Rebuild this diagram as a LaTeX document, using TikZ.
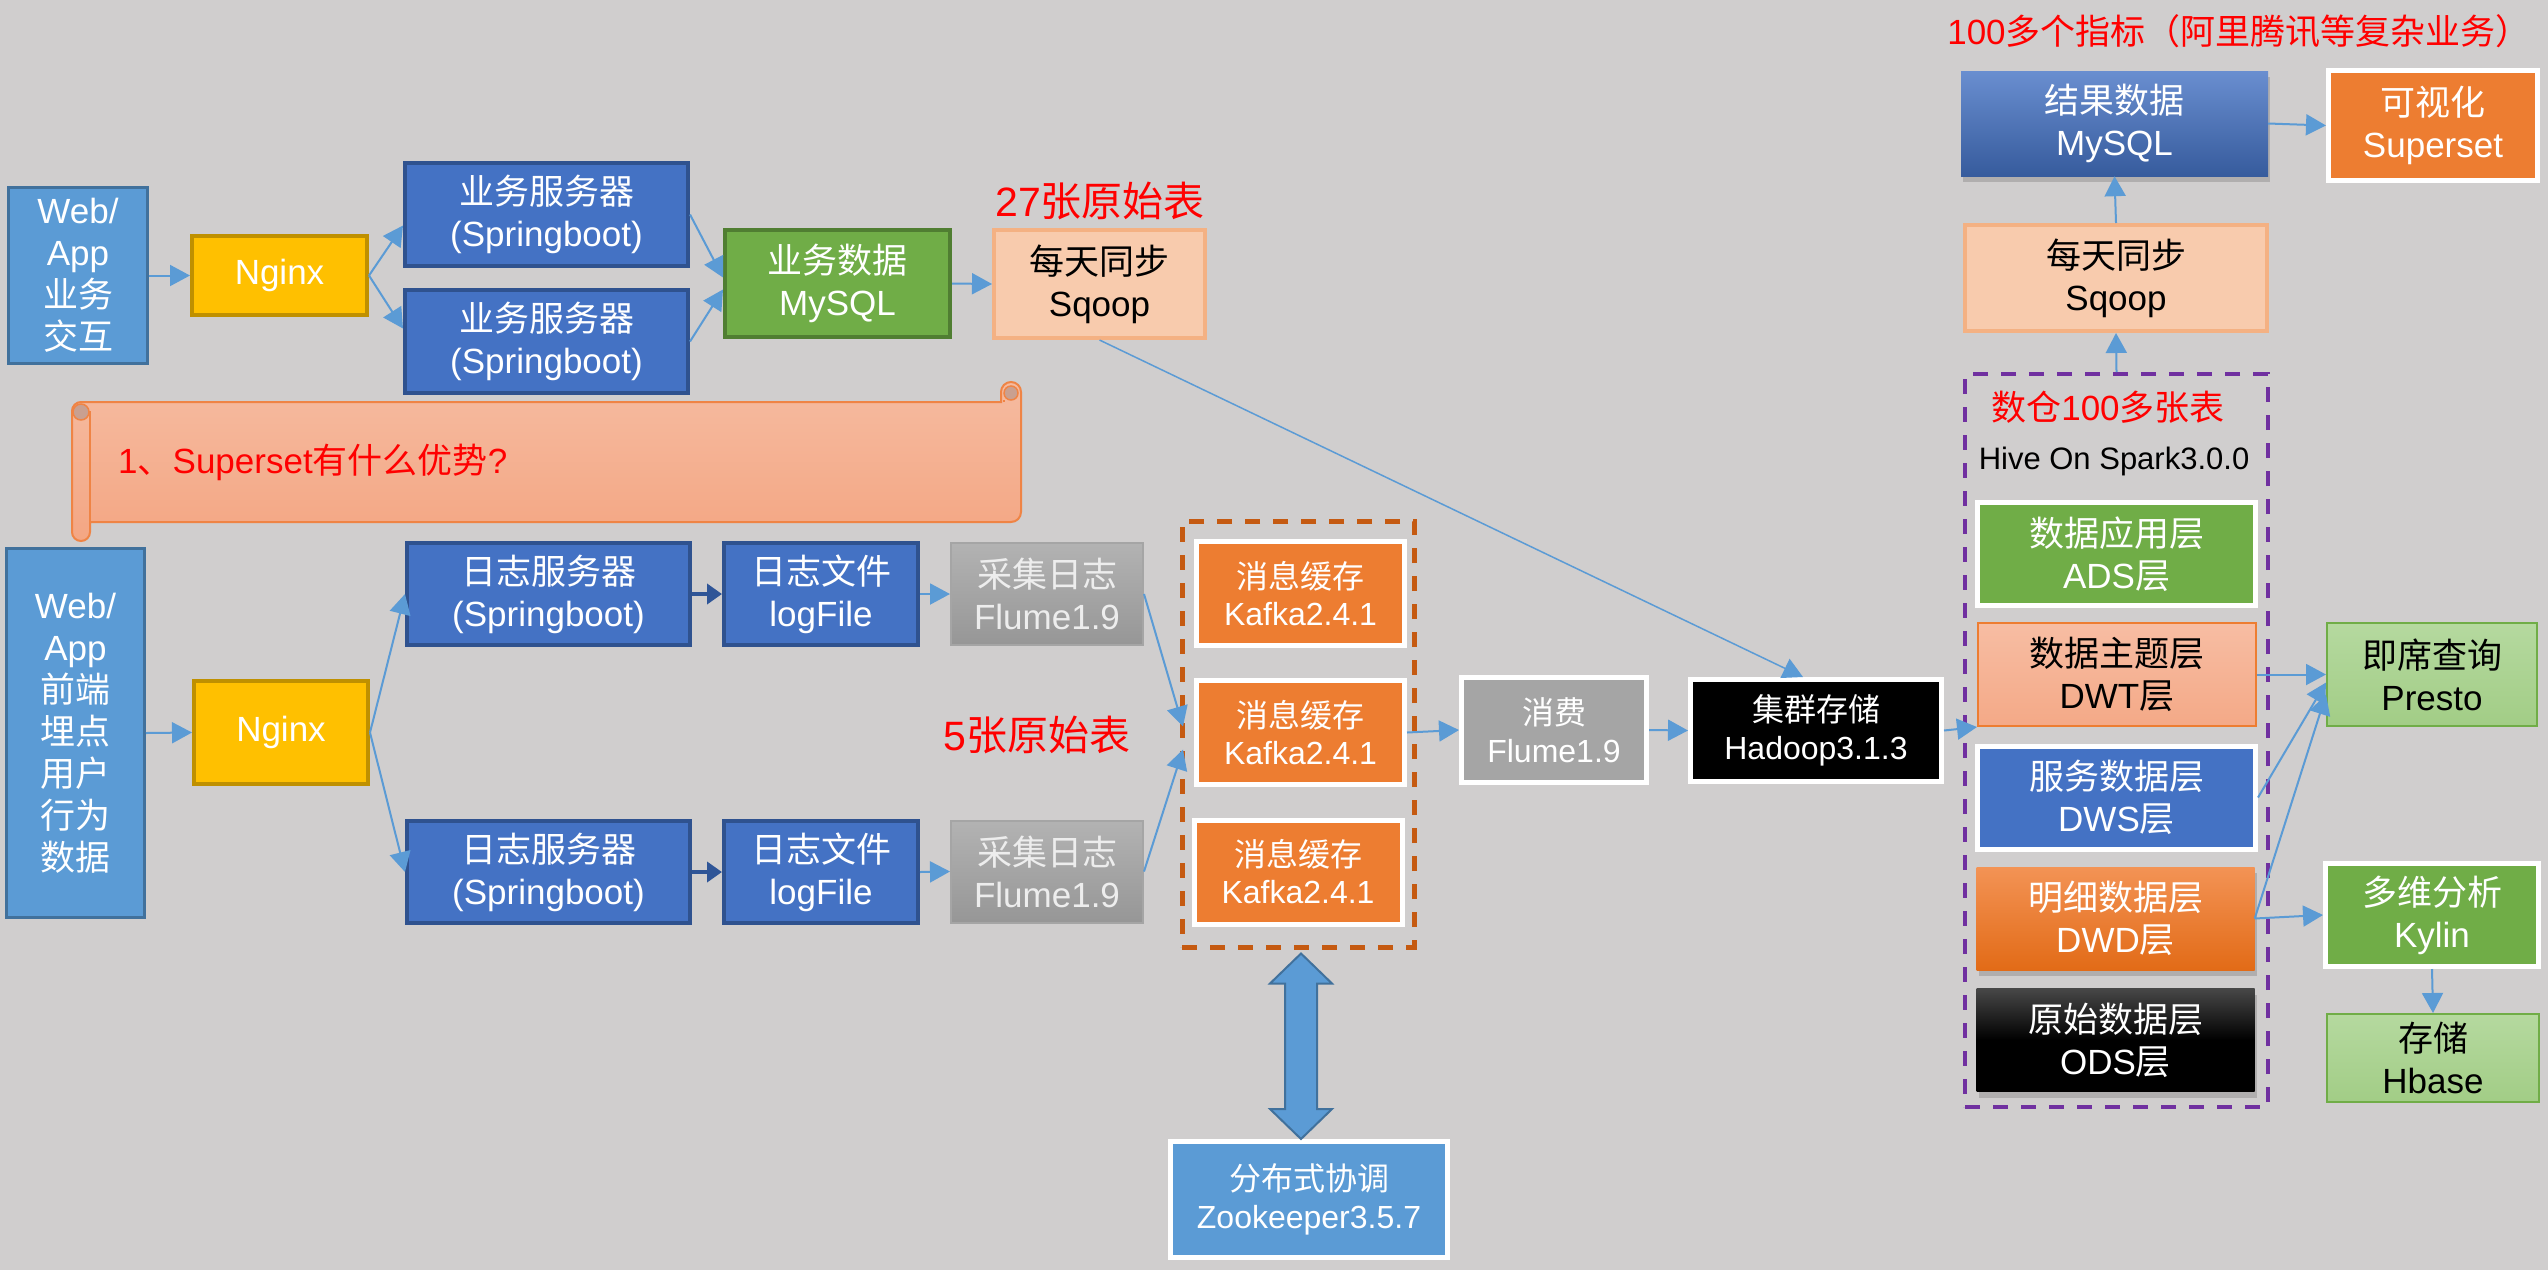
\documentclass[tikz,border=0pt]{standalone}
\usepackage{xcolor}
\usepackage{fontspec}
\setmainfont{Liberation Sans}
\newfontfamily\zhfont{Noto Sans CJK SC}
\newcommand{\zh}[1]{{\zhfont #1}}
\usepackage{tikz}
\usetikzlibrary{arrows.meta,positioning,calc,shadows}
\definecolor{bggray}{HTML}{D0CECE}
\definecolor{arrowblue}{HTML}{5B9BD5}
\definecolor{lightblue}{HTML}{5B9BD5}
\definecolor{lightblueline}{HTML}{41719C}
\definecolor{nginxyellow}{HTML}{FFC000}
\definecolor{nginxline}{HTML}{BF9000}
\definecolor{srvblue}{HTML}{4472C4}
\definecolor{srvline}{HTML}{2F528F}
\definecolor{darkarrow}{HTML}{2F5597}
\definecolor{dbgreen}{HTML}{70AD47}
\definecolor{dbline}{HTML}{507E32}
\definecolor{sqoopfill}{HTML}{F8CBAD}
\definecolor{sqoopline}{HTML}{F4B183}
\definecolor{kafkaorange}{HTML}{ED7D31}
\definecolor{grpline}{HTML}{C55A11}
\definecolor{dwpurple}{HTML}{7030A0}
\definecolor{flumegray}{HTML}{A5A5A5}
\definecolor{notered}{HTML}{FF0000}
\definecolor{scrolltop}{HTML}{F5BBA0}
\definecolor{scrollbot}{HTML}{F4A683}
\definecolor{scrollline}{HTML}{EF8445}
\definecolor{curlfill}{HTML}{C9A090}
\definecolor{dwttop}{HTML}{F7BDA3}
\definecolor{dwtbot}{HTML}{F4A987}
\definecolor{dwdtop}{HTML}{F39355}
\definecolor{dwdbot}{HTML}{E26B17}
\definecolor{lgtop}{HTML}{B5D99F}
\definecolor{lgbot}{HTML}{A2CD86}

\tikzset{
  boxbase/.style={rectangle, inner sep=0pt, align=center, text=white,
    font=\fontsize{35}{42}\selectfont},
  webbox/.style={boxbase, fill=lightblue, draw=lightblueline, line width=3pt},
  ngxbox/.style={boxbase, fill=nginxyellow, draw=nginxline, line width=4pt},
  srvbox/.style={boxbase, fill=srvblue, draw=srvline, line width=4pt},
  dbbox/.style={boxbase, fill=dbgreen, draw=dbline, line width=4pt},
  sqpbox/.style={boxbase, fill=sqoopfill, draw=sqoopline, line width=4pt, text=black},
  wbox/.style={boxbase, draw=white, line width=5pt},
  flmbox/.style={boxbase, top color=black!30, bottom color=black!41, draw=flumegray,
    line width=2pt, text=white!93!black, minimum width=192, minimum height=102},
  kfkbox/.style={wbox, fill=kafkaorange, minimum width=208, minimum height=104,
    font=\fontsize{32}{37}\selectfont},
  lgbox/.style={boxbase, top color=lgtop, bottom color=lgbot,
    draw=dbgreen, line width=2pt, text=black},
  dwlayer/.style={boxbase, minimum width=278, minimum height=103},
  boxshadow/.style={drop shadow={shadow xshift=2pt, shadow yshift=-6pt, opacity=.4}},
  grpbox/.style={rectangle, line width=5pt, dash pattern=on 15pt off 13pt},
  redtxt/.style={text=notered, inner sep=0pt, font=\fontsize{35}{42}\selectfont},
  arr/.style={draw=arrowblue, line width=2pt, -{Triangle[length=20pt,width=21pt]}},
  darr/.style={draw=darkarrow, line width=4pt, -{Triangle[length=15pt,width=20pt]}},
}

\begin{document}
\begin{tikzpicture}[x=1pt,y=-1pt]
  \useasboundingbox (0,0) rectangle (2548,1270);
  \fill[bggray] (0,0) rectangle (2548,1270);

  % Business data path
  \node[webbox, minimum width=139, minimum height=176] (webA) at (78,275.5)
    {Web/\\App\\\zh{业务}\\\zh{交互}};
  \node[ngxbox, minimum width=175, minimum height=79] (ngxA) at (279.5,275.5) {Nginx};
  \node[srvbox, minimum width=283, minimum height=103] (srvA1) at (546.5,214.5)
    {\zh{业务服务器}\\(Springboot)};
  \node[srvbox, minimum width=283, minimum height=103] (srvA2) at (546.5,341.5)
    {\zh{业务服务器}\\(Springboot)};
  \node[dbbox, minimum width=225, minimum height=107] (dbA) at (837.5,283.5)
    {\zh{业务数据}\\MySQL};
  \node[sqpbox, minimum width=211, minimum height=108] (sqpA) at (1099.5,284)
    {\zh{每天同步}\\Sqoop};
  \node[redtxt, font=\fontsize{41}{48}\selectfont] (n27) at (1100,201) {27\zh{张原始表}};

  % Question scroll
  \filldraw[top color=scrolltop, bottom color=scrollbot, draw=scrollline, line width=2pt]
    (81,402) -- (1001,402) -- (1001,392) arc[start angle=180,end angle=360,radius=10]
    -- (1021,512) arc[start angle=0,end angle=90,radius=10] -- (90,522) -- (90,532)
    arc[start angle=0,end angle=180,radius=9] -- (72,411)
    arc[start angle=180,end angle=270,radius=9] -- cycle;
  \draw[scrollline, line width=2pt] (90,411) -- (90,522);
  \filldraw[fill=curlfill, draw=scrollline, line width=1.5pt] (81,412) circle (8);
  \filldraw[fill=curlfill, draw=scrollline, line width=1.5pt] (1011,393) circle (7);
  \draw[scrollline, line width=1.5pt] (1004,400) -- (1004,402);
  \node[redtxt, anchor=west] (q1) at (118,462) {1\zh{、}Superset\zh{有什么优势}?};

  % Log data path
  \node[webbox, minimum width=138, minimum height=369] (webB) at (75.5,733)
    {Web/\\App\\\zh{前端}\\\zh{埋点}\\\zh{用户}\\\zh{行为}\\\zh{数据}};
  \node[ngxbox, minimum width=174, minimum height=103] (ngxB) at (281,732.5) {Nginx};
  \node[srvbox, minimum width=283, minimum height=102] (logsrv1) at (548.5,594)
    {\zh{日志服务器}\\(Springboot)};
  \node[srvbox, minimum width=283, minimum height=102] (logsrv2) at (548.5,872)
    {\zh{日志服务器}\\(Springboot)};
  \node[srvbox, minimum width=194, minimum height=102] (logf1) at (821,594)
    {\zh{日志文件}\\logFile};
  \node[srvbox, minimum width=194, minimum height=102] (logf2) at (821,872)
    {\zh{日志文件}\\logFile};
  \node[flmbox] (flm1) at (1047,594) {\zh{采集日志}\\Flume1.9};
  \node[flmbox] (flm2) at (1047,871.5) {\zh{采集日志}\\Flume1.9};
  \node[kfkbox] (kfk1) at (1300.5,593.5) {\zh{消息缓存}\\Kafka2.4.1};
  \node[kfkbox] (kfk2) at (1300.5,732.5) {\zh{消息缓存}\\Kafka2.4.1};
  \node[kfkbox] (kfk3) at (1298,872) {\zh{消息缓存}\\Kafka2.4.1};
  \node[grpbox, draw=grpline, minimum width=232, minimum height=426] (kfkgrp) at (1298,734) {};
  \node[redtxt, font=\fontsize{41}{48}\selectfont] (n5) at (1037,735) {5\zh{张原始表}};
  \node[wbox, fill=flumegray, minimum width=185, minimum height=105,
    font=\fontsize{32}{38}\selectfont] (cons) at (1554,730) {\zh{消费}\\Flume1.9};
  \node[wbox, fill=black, minimum width=251, minimum height=102,
    font=\fontsize{32}{38}\selectfont] (hdfs) at (1816,730.5) {\zh{集群存储}\\Hadoop3.1.3};
  \node[wbox, fill=lightblue, minimum width=277, minimum height=116,
    font=\fontsize{32}{38}\selectfont] (zk) at (1309,1199.5) {\zh{分布式协调}\\Zookeeper3.5.7};

  % Warehouse and outputs
  \node[redtxt] (ntop) at (2239,31) {100\zh{多个指标（阿里腾讯等复杂业务）}};
  \node[boxbase, boxshadow, top color=srvblue!80!white, bottom color=srvblue!80!black,
    minimum width=307, minimum height=105] (rmysql) at (2114.5,123.5) {\zh{结果数据}\\MySQL};
  \node[wbox, fill=kafkaorange, minimum width=209, minimum height=110] (sset) at (2433,125.5)
    {\zh{可视化}\\Superset};
  \node[sqpbox, minimum width=302, minimum height=106] (sqpB) at (2116,278)
    {\zh{每天同步}\\Sqoop};
  \node[grpbox, draw=dwpurple, line width=4pt, minimum width=303, minimum height=733] (dwgrp)
    at (2116.5,740.5) {};
  \node[redtxt] (nwh) at (2108,407) {\zh{数仓}100\zh{多张表}};
  \node[inner sep=0pt, font=\fontsize{31}{36}\selectfont] (hive) at (2114,461) {Hive On Spark3.0.0};
  \node[dwlayer, wbox, fill=dbgreen] (ads) at (2116.5,554) {\zh{数据应用层}\\ADS\zh{层}};
  \node[dwlayer, top color=dwttop, bottom color=dwtbot,
    draw=kafkaorange, line width=2pt, text=black] (dwt) at (2117,674.5) {\zh{数据主题层}\\DWT\zh{层}};
  \node[dwlayer, wbox, fill=srvblue] (dws) at (2116.5,797.5) {\zh{服务数据层}\\DWS\zh{层}};
  \node[dwlayer, boxshadow, top color=dwdtop, bottom color=dwdbot]
    (dwd) at (2115.5,918.5) {\zh{明细数据层}\\DWD\zh{层}};
  \node[dwlayer, boxshadow, top color=black!72, bottom color=black, middle color=black]
    (ods) at (2115.5,1040) {\zh{原始数据层}\\ODS\zh{层}};
  \node[lgbox, minimum width=210, minimum height=103] (presto) at (2432,674.5)
    {\zh{即席查询}\\Presto};
  \node[wbox, fill=dbgreen, minimum width=213, minimum height=103] (kylin) at (2432,915)
    {\zh{多维分析}\\Kylin};
  \node[lgbox, minimum width=212, minimum height=88] (hbase) at (2433,1058)
    {\zh{存储}\\Hbase};

  % Connectors
  \draw[arr] (webA.east) -- (ngxA.west);
  \draw[arr] (ngxA.east) -- ($(srvA1.west)+(0,11)$);
  \draw[arr] (ngxA.east) -- ($(srvA2.west)+(0,-13)$);
  \draw[arr] (srvA1.east) -- ($(dbA.west)+(0,-6)$);
  \draw[arr] (srvA2.east) -- ($(dbA.west)+(0,6)$);
  \draw[arr] (dbA.east) -- (sqpA.west);
  \draw[arr, line width=1.5pt] (sqpA.south) -- ($(hdfs.north)+(-13,0)$);
  \draw[arr] (webB.east) -- (ngxB.west);
  \draw[arr] (ngxB.east) -- (logsrv1.west);
  \draw[arr] (ngxB.east) -- (logsrv2.west);
  \draw[darr] (logsrv1.east) -- (logf1.west);
  \draw[darr] (logsrv2.east) -- (logf2.west);
  \draw[arr] (logf1.east) -- (flm1.west);
  \draw[arr] (logf2.east) -- (flm2.west);
  \draw[arr] (flm1.east) -- ($(kfk2.west)+(-11,-6)$);
  \draw[arr] (flm2.east) -- ($(kfk2.west)+(-11,17)$);
  \draw[arr] (kfk2.east) -- (cons.west);
  \draw[arr] (cons.east) -- (hdfs.west);
  \draw[arr] (hdfs.east) -- (dwt.south west);
  \draw[arr] (dwgrp.north) -- (sqpB.south);
  \draw[arr] (sqpB.north) -- (rmysql.south);
  \draw[arr] (rmysql.east) -- (sset.west);
  \draw[arr] (dwt.east) -- (presto.west);
  \draw[arr] (dws.east) -- ($(presto.west)+(0,8)$);
  \draw[arr] (dwd.east) -- ($(presto.west)+(0,20)$);
  \draw[arr] (dwd.east) -- (kylin.west);
  \draw[arr] (kylin.south) -- (hbase.north);

  % Zookeeper double arrow
  \filldraw[fill=lightblue, draw=lightblueline, line width=2pt]
    let \p1=($(kfkgrp.south)+(3,4)$), \p2=($(zk.north)+(0,0)$) in
    (\x1,\y1) -- (\x1+31pt,\y1-30pt) -- (\x1+16pt,\y1-30pt) -- (\x1+16pt,\y2+30pt)
    -- (\x1+31pt,\y2+30pt) -- (\x1,\y2) -- (\x1-31pt,\y2+30pt) -- (\x1-16pt,\y2+30pt)
    -- (\x1-16pt,\y1-30pt) -- (\x1-31pt,\y1-30pt) -- cycle;
\end{tikzpicture}
\end{document}
